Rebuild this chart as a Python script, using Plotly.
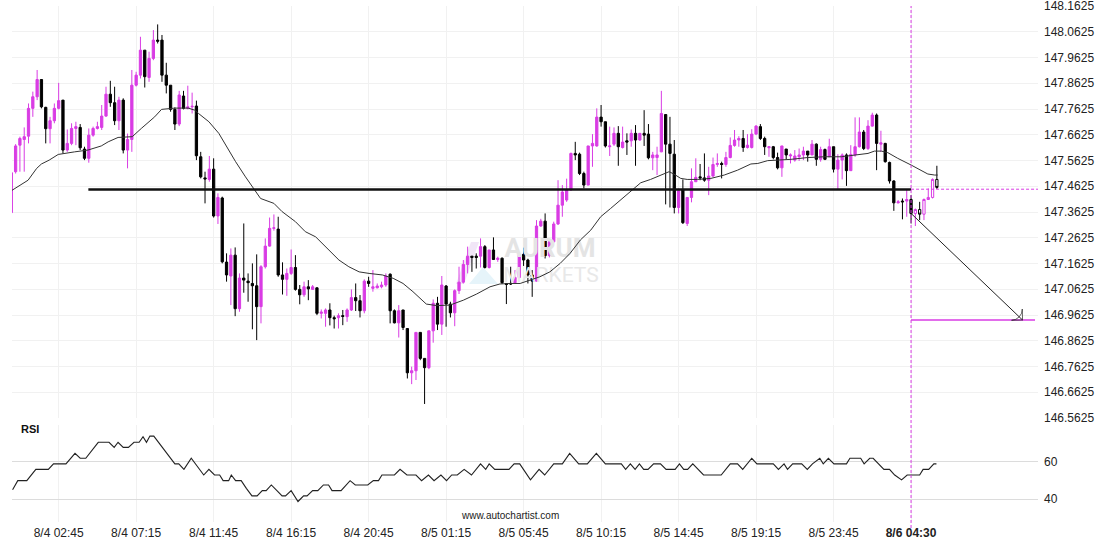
import plotly.graph_objects as go

# ---------------- data ----------------
bars = list(range(1, 217))

opens = [
    147.360, 147.519, 147.622, 147.644, 147.657, 147.765, 147.810, 147.877, 147.769, 147.686,
    147.717, 147.765, 147.797, 147.603, 147.629, 147.687, 147.691, 147.607, 147.571, 147.661,
    147.687, 147.691, 147.735, 147.820, 147.787, 147.717, 147.797, 147.603, 147.644, 147.855,
    147.894, 147.991, 147.885, 147.959, 148.030, 148.030, 147.894, 147.855, 147.761, 147.704,
    147.813, 147.765, 147.771, 147.774, 147.577, 147.495, 147.489, 147.529, 147.347, 147.417,
    147.168, 147.114, 147.195, 146.987, 147.106, 147.094, 147.085, 147.076, 146.995, 147.150,
    147.230, 147.299, 147.296, 147.118, 147.101, 147.124, 147.147, 147.062, 147.041, 147.072,
    147.062, 147.068, 146.969, 146.969, 146.982, 146.952, 146.952, 146.960, 146.956, 146.982,
    147.030, 147.018, 146.979, 147.094, 147.066, 147.068, 147.072, 147.079, 147.121, 146.979,
    146.932, 146.982, 146.910, 146.738, 146.746, 146.895, 146.794, 146.758, 146.901, 147.008,
    146.927, 147.075, 147.005, 146.971, 147.057, 147.090, 147.159, 147.191, 147.191, 147.191,
    147.228, 147.147, 147.215, 147.178, 147.183, 147.085, 147.085, 147.088, 147.108, 147.198,
    147.176, 147.118, 147.094, 147.308, 147.327, 147.193, 147.247, 147.316, 147.389, 147.409,
    147.448, 147.590, 147.587, 147.512, 147.467, 147.619, 147.619, 147.731, 147.713, 147.616,
    147.626, 147.668, 147.613, 147.639, 147.639, 147.668, 147.642, 147.668, 147.665, 147.573,
    147.574, 147.596, 147.741, 147.626, 147.587, 147.380, 147.448, 147.318, 147.419, 147.480,
    147.499, 147.495, 147.486, 147.502, 147.547, 147.551, 147.547, 147.574, 147.621, 147.642,
    147.648, 147.613, 147.613, 147.665, 147.694, 147.648, 147.612, 147.616, 147.574, 147.534,
    147.607, 147.580, 147.564, 147.577, 147.584, 147.599, 147.584, 147.626, 147.567, 147.605,
    147.577, 147.616, 147.529, 147.564, 147.584, 147.523, 147.584, 147.616, 147.673, 147.609,
    147.696, 147.739, 147.626, 147.629, 147.555, 147.483, 147.398, 147.405, 147.405, 147.411,
    147.357, 147.372, 147.354, 147.411, 147.419, 147.489,
]

highs = [
    147.519, 147.626, 147.655, 147.691, 147.784, 147.830, 147.914, 147.877, 147.771, 147.732,
    147.784, 147.864, 147.797, 147.683, 147.707, 147.713, 147.704, 147.616, 147.687, 147.694,
    147.713, 147.778, 147.849, 147.872, 147.849, 147.810, 147.804, 147.667, 147.914, 147.907,
    148.043, 147.991, 147.985, 148.069, 148.091, 148.050, 147.942, 147.855, 147.769, 147.833,
    147.833, 147.853, 147.826, 147.795, 147.596, 147.519, 147.580, 147.571, 147.435, 147.422,
    147.202, 147.221, 147.225, 147.124, 147.318, 147.124, 147.163, 147.198, 147.156, 147.260,
    147.341, 147.353, 147.344, 147.167, 147.143, 147.217, 147.195, 147.079, 147.092, 147.098,
    147.079, 147.070, 146.984, 146.988, 147.008, 146.960, 146.969, 146.982, 146.988, 147.062,
    147.085, 147.040, 147.101, 147.111, 147.137, 147.085, 147.092, 147.124, 147.124, 146.984,
    147.001, 146.982, 146.910, 146.762, 146.895, 146.895, 146.794, 146.901, 147.023, 147.033,
    147.114, 147.079, 147.014, 147.062, 147.150, 147.176, 147.228, 147.191, 147.202, 147.260,
    147.234, 147.215, 147.264, 147.189, 147.186, 147.085, 147.150, 147.137, 147.202, 147.224,
    147.181, 147.137, 147.331, 147.336, 147.357, 147.257, 147.325, 147.486, 147.467, 147.492,
    147.593, 147.635, 147.593, 147.519, 147.619, 147.665, 147.765, 147.778, 147.713, 147.694,
    147.691, 147.696, 147.694, 147.668, 147.683, 147.700, 147.668, 147.758, 147.704, 147.596,
    147.616, 147.833, 147.741, 147.732, 147.642, 147.454, 147.489, 147.419, 147.532, 147.571,
    147.549, 147.590, 147.538, 147.574, 147.590, 147.558, 147.596, 147.652, 147.681, 147.657,
    147.681, 147.665, 147.684, 147.700, 147.704, 147.655, 147.616, 147.619, 147.593, 147.619,
    147.607, 147.590, 147.603, 147.609, 147.616, 147.599, 147.642, 147.629, 147.616, 147.609,
    147.647, 147.616, 147.587, 147.590, 147.590, 147.622, 147.730, 147.730, 147.681, 147.719,
    147.748, 147.745, 147.678, 147.631, 147.558, 147.486, 147.409, 147.415, 147.448, 147.428,
    147.376, 147.402, 147.415, 147.454, 147.493, 147.542,
]

lows = [
    147.351, 147.512, 147.519, 147.519, 147.629, 147.732, 147.797, 147.765, 147.629, 147.629,
    147.707, 147.761, 147.590, 147.596, 147.622, 147.622, 147.603, 147.564, 147.554, 147.655,
    147.683, 147.681, 147.732, 147.771, 147.700, 147.681, 147.590, 147.532, 147.596, 147.850,
    147.881, 147.846, 147.868, 147.952, 148.017, 147.868, 147.823, 147.752, 147.681, 147.696,
    147.761, 147.761, 147.745, 147.564, 147.493, 147.396, 147.480, 147.341, 147.316, 147.163,
    147.092, 147.001, 146.958, 146.975, 147.049, 147.014, 146.907, 146.865, 146.930, 147.143,
    147.228, 147.290, 147.111, 147.042, 147.037, 147.118, 147.057, 147.004, 147.033, 147.020,
    147.062, 146.962, 146.949, 146.917, 146.922, 146.910, 146.910, 146.923, 146.936, 146.978,
    146.978, 146.953, 146.969, 147.072, 147.053, 147.066, 147.066, 147.072, 146.930, 146.930,
    146.875, 146.904, 146.716, 146.694, 146.710, 146.787, 146.617, 146.752, 146.855, 146.904,
    146.885, 146.917, 146.953, 146.919, 147.044, 147.085, 147.124, 147.130, 147.143, 147.147,
    147.143, 147.143, 147.176, 147.169, 147.083, 147.005, 147.079, 147.085, 147.105, 147.153,
    147.085, 147.033, 147.092, 147.305, 147.182, 147.186, 147.243, 147.312, 147.344, 147.402,
    147.445, 147.564, 147.506, 147.454, 147.467, 147.538, 147.616, 147.694, 147.613, 147.580,
    147.619, 147.542, 147.609, 147.584, 147.616, 147.542, 147.639, 147.619, 147.567, 147.525,
    147.506, 147.595, 147.392, 147.380, 147.357, 147.357, 147.316, 147.308, 147.400, 147.480,
    147.486, 147.480, 147.428, 147.499, 147.538, 147.493, 147.538, 147.571, 147.616, 147.616,
    147.596, 147.609, 147.609, 147.661, 147.642, 147.584, 147.577, 147.567, 147.528, 147.499,
    147.567, 147.551, 147.558, 147.561, 147.564, 147.558, 147.584, 147.542, 147.558, 147.564,
    147.577, 147.516, 147.452, 147.489, 147.464, 147.523, 147.577, 147.613, 147.603, 147.603,
    147.694, 147.525, 147.596, 147.554, 147.473, 147.367, 147.396, 147.334, 147.344, 147.318,
    147.308, 147.331, 147.331, 147.409, 147.415, 147.452,
]

closes = [
    147.515, 147.619, 147.648, 147.655, 147.765, 147.810, 147.877, 147.771, 147.686, 147.717,
    147.765, 147.795, 147.603, 147.629, 147.687, 147.694, 147.612, 147.571, 147.661, 147.687,
    147.694, 147.735, 147.820, 147.787, 147.717, 147.797, 147.603, 147.644, 147.855, 147.894,
    147.991, 147.888, 147.959, 148.030, 148.026, 147.894, 147.855, 147.761, 147.704, 147.817,
    147.765, 147.771, 147.773, 147.581, 147.499, 147.491, 147.529, 147.347, 147.419, 147.169,
    147.118, 147.195, 146.987, 147.106, 147.098, 147.088, 147.076, 146.995, 147.150, 147.230,
    147.299, 147.301, 147.118, 147.101, 147.124, 147.147, 147.062, 147.041, 147.072, 147.064,
    147.072, 146.969, 146.974, 146.982, 146.952, 146.948, 146.960, 146.957, 146.982, 147.030,
    147.018, 146.979, 147.094, 147.085, 147.072, 147.075, 147.079, 147.114, 146.979, 146.932,
    146.979, 146.914, 146.738, 146.746, 146.895, 146.794, 146.758, 146.901, 147.008, 146.927,
    147.079, 147.005, 146.971, 147.057, 147.090, 147.159, 147.191, 147.186, 147.186, 147.228,
    147.147, 147.215, 147.178, 147.183, 147.088, 147.081, 147.083, 147.108, 147.195, 147.176,
    147.118, 147.094, 147.308, 147.327, 147.193, 147.247, 147.316, 147.389, 147.440, 147.448,
    147.590, 147.584, 147.512, 147.467, 147.619, 147.629, 147.731, 147.713, 147.619, 147.619,
    147.668, 147.616, 147.634, 147.634, 147.668, 147.642, 147.668, 147.661, 147.573, 147.584,
    147.584, 147.745, 147.626, 147.590, 147.380, 147.445, 147.321, 147.419, 147.480, 147.497,
    147.495, 147.486, 147.502, 147.547, 147.551, 147.547, 147.574, 147.621, 147.642, 147.648,
    147.613, 147.622, 147.665, 147.696, 147.648, 147.616, 147.616, 147.574, 147.534, 147.619,
    147.584, 147.584, 147.580, 147.584, 147.599, 147.584, 147.626, 147.567, 147.605, 147.567,
    147.616, 147.529, 147.564, 147.584, 147.523, 147.586, 147.616, 147.673, 147.609, 147.696,
    147.739, 147.629, 147.631, 147.558, 147.483, 147.398, 147.402, 147.402, 147.411, 147.357,
    147.372, 147.354, 147.411, 147.419, 147.489, 147.458,
]

# moving average (at sample positions)
ma_x = [1, 4.9, 6.9, 8.0, 9.8, 11.9, 15.7, 18.8, 21.9, 23.5, 25.8, 29.1, 31.2, 34.3, 35.9,
        39.0, 42.1, 43.6, 44.5, 46.9, 49.2, 51.5, 53.1, 55.4, 57.3, 58.9, 62.0, 63.9, 67.0,
        69.3, 71.7, 74.8, 77.1, 79.4, 81.8, 84.1, 87.2, 89.7, 92.0, 94.3, 97.4, 99.8, 102.9,
        106.0, 109.1, 112.2, 114.5, 116.8, 119.2, 121.5, 123.8, 126.1, 128.5, 130.8, 133.2,
        135.6, 137.9, 140.2, 142.5, 144.9, 147.2, 149.5, 151.8, 153.8, 154.9, 156.5, 158.0,
        160.4, 163.5, 166.6, 169.7, 172.8, 174.4, 176.7, 179.0, 182.1, 186.0, 189.9, 193.8,
        197.6, 200.0, 201.5, 203.1, 204.6, 206.9, 210.0, 212.4, 213.9, 215.5, 216.2]
ma_y = [147.445, 147.486, 147.532, 147.549, 147.564, 147.586, 147.596, 147.603, 147.619, 147.635,
        147.652, 147.655, 147.687, 147.732, 147.761, 147.766, 147.766, 147.758, 147.745, 147.713,
        147.668, 147.603, 147.558, 147.499, 147.454, 147.415, 147.396, 147.364, 147.325, 147.286,
        147.266, 147.215, 147.176, 147.150, 147.130, 147.124, 147.118, 147.105, 147.085, 147.053,
        147.005, 146.999, 147.001, 147.020, 147.044, 147.072, 147.083, 147.085, 147.085, 147.098,
        147.111, 147.130, 147.163, 147.202, 147.254, 147.292, 147.344, 147.376, 147.409, 147.441,
        147.476, 147.489, 147.506, 147.519, 147.510, 147.493, 147.489, 147.489, 147.493, 147.506,
        147.525, 147.549, 147.551, 147.562, 147.564, 147.567, 147.574, 147.577, 147.577, 147.584,
        147.590, 147.599, 147.599, 147.593, 147.571, 147.545, 147.523, 147.510, 147.506, 147.506]

# RSI (at its turning points)
rsi_x = [1.3, 2.5, 4.6, 6.7, 9.6, 10.8, 13.7, 15.8, 17.0, 18.3, 21.2, 23.7, 24.9, 25.8, 27.0,
         28.2, 29.5, 30.7, 31.6, 32.4, 33.2, 34.1, 38.2, 39.0, 39.9, 41.1, 42.8, 45.7, 46.9,
         48.2, 49.4, 50.2, 51.5, 52.1, 53.1, 54.4, 55.6, 56.9, 58.1, 59.3, 60.2, 61.4, 62.7,
         63.9, 64.7, 66.0, 67.6, 68.9, 69.7, 71.0, 72.2, 73.5, 74.7, 75.5, 77.6, 79.7, 80.9,
         83.8, 85.1, 86.3, 87.1, 90.0, 91.3, 92.9, 95.0, 96.3, 97.9, 99.2, 100.8, 102.1, 103.3,
         104.6, 106.2, 107.9, 110.0, 111.2, 112.0, 113.3, 116.6, 117.8, 119.1, 121.6, 123.6,
         124.9, 127.0, 129.0, 130.7, 132.8, 134.8, 136.9, 139.0, 142.7, 143.7, 144.8, 145.9,
         146.9, 147.9, 148.9, 150.2, 151.8, 153.1, 155.2, 156.2, 157.2, 158.1, 159.3, 161.8,
         165.9, 168.0, 169.7, 170.9, 173.0, 174.2, 178.0, 179.2, 180.5, 181.3, 182.5, 184.6,
         185.9, 187.1, 188.8, 189.6, 190.8, 192.1, 195.0, 195.8, 198.3, 199.1, 200.4, 201.2,
         202.5, 203.7, 205.0, 206.2, 207.8, 209.1, 212.0, 212.8, 214.1, 215.3, 215.9]
rsi_y = [45.0, 49.9, 49.9, 55.9, 55.9, 58.8, 58.8, 64.4, 61.8, 61.8, 70.3, 70.3, 67.6, 70.3, 67.6,
         67.6, 70.3, 70.3, 73.3, 70.3, 73.6, 73.6, 61.2, 58.8, 58.8, 55.9, 61.8, 52.9, 55.9,
         52.9, 52.9, 49.9, 49.9, 52.9, 49.9, 49.9, 45.8, 41.8, 41.8, 44.6, 44.6, 47.6, 44.6,
         41.8, 41.8, 44.6, 38.8, 41.8, 41.8, 44.6, 44.6, 47.6, 47.6, 44.6, 44.6, 49.9, 47.6,
         47.6, 49.9, 49.9, 52.9, 52.9, 55.9, 52.9, 52.9, 49.9, 52.9, 49.9, 52.9, 49.9, 52.9,
         52.9, 55.9, 52.9, 58.8, 55.9, 58.8, 55.9, 55.9, 58.8, 58.8, 50.3, 55.9,
         52.9, 58.8, 58.8, 64.4, 58.8, 58.8, 64.4, 58.8, 58.8, 55.9, 58.8, 55.9,
         58.8, 55.9, 55.9, 58.8, 58.8, 55.9, 55.9, 58.8, 55.9, 55.9, 58.8, 52.9,
         52.9, 58.8, 58.8, 55.9, 61.8, 58.8, 58.8, 55.9, 58.8, 55.9, 58.8, 58.8,
         55.9, 58.8, 61.8, 58.8, 61.8, 58.8, 58.8, 61.8, 61.8, 58.8, 61.8, 61.8,
         58.8, 55.9, 55.9, 52.9, 50.3, 52.9, 52.9, 55.9, 55.9, 58.8, 58.8]

# pattern / annotation levels
support_level = 147.450
support_start = 18.9
current_bar = 210
current_price = 147.451
arrow_start = 147.357
target_price = 146.943
arrow_end_bar = 235.9
target_end_bar = 238.8

price_tick_labels = ["146.5625", "146.6625", "146.7625", "146.8625", "146.9625", "147.0625",
                     "147.1625", "147.2625", "147.3625", "147.4625", "147.5625", "147.6625",
                     "147.7625", "147.8625", "147.9625", "148.0625", "148.1625"]
time_tick_bars = [12, 30, 48, 66, 84, 102, 120, 138, 156, 174, 192, 210]
time_tick_labels = ["8/4 02:45", "8/4 07:15", "8/4 11:45", "8/4 16:15", "8/4 20:45",
                    "8/5 01:15", "8/5 05:45", "8/5 10:15", "8/5 14:45", "8/5 19:15",
                    "8/5 23:45", "<b>8/6 04:30</b>"]
rsi_ticks = [40, 60]

# ---------------- styling ----------------
MAG = "#d93ce4"
BLK = "#000000"
W, H = 1110, 550
L_PX, R_PX = 12, 1038
BAR_PX, BAR1_PX = 4.305, 11.3
P0, P0_PX, P_PER_PX = 148.0625, 31.7, 0.1 / 25.75


def py(px):
    return 1 - px / H


def pxx(px):
    return (px - L_PX) / (R_PX - L_PX)


def bx(px):  # page pixel -> bar position (for decorations only)
    return 1 + (px - BAR1_PX) / BAR_PX


def pv(px):  # page pixel -> price (for decorations only)
    return P0 - (px - P0_PX) * P_PER_PX


n_solid = current_bar
fig = go.Figure()

# watermark text drawn first so candles sit on top of it
fig.add_trace(go.Scatter(x=[bx(550), bx(551)], y=[pv(250), pv(277)], mode="text",
                         text=["<b>AURUM</b>", "MARKETS"],
                         textfont=dict(family="Roboto, Arial, sans-serif", size=[26, 21],
                                       color=["#e4e4e4", "#e8e8e8"]),
                         hoverinfo="skip", showlegend=False, xaxis="x", yaxis="y"))

fig.add_trace(go.Candlestick(
    x=bars[:n_solid], open=opens[:n_solid], high=highs[:n_solid],
    low=lows[:n_solid], close=closes[:n_solid],
    increasing=dict(line=dict(color=MAG, width=1), fillcolor=MAG),
    decreasing=dict(line=dict(color=BLK, width=1), fillcolor=BLK),
    whiskerwidth=0, xaxis="x", yaxis="y", showlegend=False))

fig.add_trace(go.Candlestick(
    x=bars[n_solid:], open=opens[n_solid:], high=highs[n_solid:],
    low=lows[n_solid:], close=closes[n_solid:],
    increasing=dict(line=dict(color=MAG, width=1), fillcolor="white"),
    decreasing=dict(line=dict(color=BLK, width=1), fillcolor="white"),
    whiskerwidth=0, xaxis="x", yaxis="y", showlegend=False))

fig.add_trace(go.Scatter(x=ma_x, y=ma_y, mode="lines",
                         line=dict(color="#333333", width=1), xaxis="x", yaxis="y",
                         hoverinfo="skip", showlegend=False))

# support line
fig.add_trace(go.Scatter(x=[support_start, current_bar], y=[support_level, support_level],
                         mode="lines", line=dict(color="#111111", width=2.6),
                         xaxis="x", yaxis="y", hoverinfo="skip", showlegend=False))
# current price dashed
fig.add_trace(go.Scatter(x=[current_bar, 241], y=[current_price, current_price],
                         mode="lines", line=dict(color=MAG, width=1, dash="3px,2px"),
                         xaxis="x", yaxis="y", hoverinfo="skip", showlegend=False))
# target level
fig.add_trace(go.Scatter(x=[current_bar, target_end_bar], y=[target_price, target_price],
                         mode="lines", line=dict(color=MAG, width=1.3),
                         xaxis="x", yaxis="y", hoverinfo="skip", showlegend=False))
# forecast arrow
fig.add_trace(go.Scatter(x=[current_bar, arrow_end_bar], y=[arrow_start, target_price],
                         mode="lines+markers", line=dict(color="#222222", width=1),
                         marker=dict(symbol=["circle", "arrow-wide-open"], size=[0, 11],
                                     angleref="previous", color="#222222",
                                     line=dict(color="#222222", width=1)),
                         xaxis="x", yaxis="y", hoverinfo="skip", showlegend=False))

# RSI
fig.add_trace(go.Scatter(x=rsi_x, y=rsi_y, mode="lines",
                         line=dict(color="#222222", width=1.1), xaxis="x2", yaxis="y2",
                         hoverinfo="skip", showlegend=False))

xr = [bx(L_PX), bx(R_PX)]
grid_c = "#f1f1f1"
font = dict(family="Arial, Liberation Sans, sans-serif", size=12, color="#222222")

fig.update_layout(
    template="none", width=W, height=H,
    margin=dict(l=L_PX, r=W - R_PX, t=0, b=0),
    paper_bgcolor="white", plot_bgcolor="white",
    showlegend=False, boxgap=0.25, font=font,
    xaxis=dict(domain=[0, 1], range=xr, anchor="y", tickvals=time_tick_bars,
               showticklabels=False, showgrid=True, gridcolor=grid_c, gridwidth=1,
               zeroline=False, showline=False, ticks="", rangeslider=dict(visible=False)),
    yaxis=dict(domain=[py(418), py(6)], range=[146.5625, 148.1625], anchor="x",
               side="right", tickvals=[float(t) for t in price_tick_labels],
               ticktext=price_tick_labels, showgrid=True, gridcolor=grid_c,
               zeroline=False, showline=False, ticks="", ticklabelstandoff=5,
               ticklabeloverflow="allow", tickfont=font),
    xaxis2=dict(domain=[0, 1], range=xr, anchor="y2", tickvals=time_tick_bars,
                ticktext=time_tick_labels, showgrid=True, gridcolor=grid_c,
                zeroline=False, showline=False, ticks="", tickfont=font,
                ticklabelstandoff=2),
    yaxis2=dict(domain=[py(522), py(425)], range=[27.9, 79.5], anchor="x2",
                side="right", tickvals=rsi_ticks, showgrid=True, gridcolor="#dcdcdc",
                zeroline=False, showline=False, ticks="", ticklabelstandoff=5,
                tickfont=font),
)

# faint logo marks of the watermark (below the candles)
fig.add_shape(type="path", xref="x", yref="y", layer="below",
              path=(f"M {bx(456)} {pv(284)} L {bx(464)} {pv(284)} "
                    f"L {bx(479)} {pv(242)} L {bx(471)} {pv(242)} Z"),
              fillcolor="#f1e6f7", line=dict(width=0))
fig.add_shape(type="path", xref="x", yref="y", layer="below",
              path=(f"M {bx(469)} {pv(284)} L {bx(483)} {pv(267)} "
                    f"L {bx(498)} {pv(284)} Z"),
              fillcolor="#e6f4fa", line=dict(width=0))

# vertical dashed "now" line
fig.add_shape(type="line", xref="x", yref="paper", x0=current_bar, x1=current_bar,
              y0=py(528), y1=py(6), line=dict(color=MAG, width=1, dash="3px,2px"))

fig.add_annotation(xref="paper", yref="paper", x=pxx(19), y=py(437), xanchor="left",
                   text="<b>RSI</b>", showarrow=False,
                   font=dict(family="Arial, Liberation Sans, sans-serif", size=11,
                             color="#111111"))
fig.add_annotation(xref="paper", yref="paper", x=pxx(510), y=py(523), xanchor="center",
                   text="www.autochartist.com", showarrow=False,
                   font=dict(family="Arial, Liberation Sans, sans-serif", size=10,
                             color="#222222"))

fig.write_html("out.html", config={"displayModeBar": False},
               post_script="document.body.style.margin='0';")
